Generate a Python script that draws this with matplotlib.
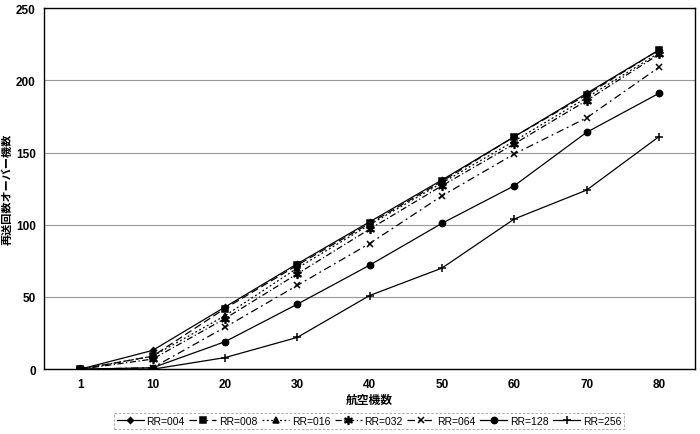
import matplotlib
matplotlib.use("Agg")
import matplotlib.pyplot as plt
import numpy as np

plt.rcParams['font.family'] = ['Liberation Sans', 'Noto Sans CJK JP', 'DejaVu Sans']

categories = ['1', '10', '20', '30', '40', '50', '60', '70', '80']
series_names = ['RR=004', 'RR=008', 'RR=016', 'RR=032', 'RR=064', 'RR=128', 'RR=256']
rr004 = [0, 13, 43, 73, 102, 131, 161, 191, 221]
rr008 = [0, 9, 42, 72, 101, 130, 161, 190, 221]
rr016 = [0, 9, 37, 70, 100, 129, 158, 188, 219]
rr032 = [0, 7, 35, 66, 97, 127, 156, 186, 218]
rr064 = [0, 1, 29, 58, 87, 120, 149, 174, 209]
rr128 = [0, 1, 19, 45, 72, 101, 127, 164, 191]
rr256 = [0, 0, 8, 22, 51, 70, 104, 124, 161]
yticks = [0, 50, 100, 150, 200, 250]

all_series = [rr004, rr008, rr016, rr032, rr064, rr128, rr256]
markers = ['D', 's', '^', '$*$', 'x', 'o', '+']
msizes = [3, 4, 4, 5.5, 4.5, 4.5, 5.5]
linestyles = ['-', (0, (6, 3)), (0, (1.5, 2)), (0, (5, 2, 1, 2)), (0, (6, 3, 1.5, 3)), '-', '-']

fig = plt.figure(figsize=(7, 4.35), dpi=100)
ax = fig.add_axes([0.063, 0.149, 0.93, 0.83])

x = np.arange(len(categories))
handles = []
for name, vals, m, ms, ls in zip(series_names, all_series, markers, msizes, linestyles):
    h, = ax.plot(x, vals, color='black', linestyle=ls, linewidth=0.9,
                 marker=m, markersize=ms, markeredgewidth=1.1, label=name)
    handles.append(h)

ax.set_xlim(-0.5, len(categories) - 0.5)
ax.set_ylim(0, 250)
ax.set_xticks(x)
ax.set_xticklabels(categories)
ax.set_yticks(yticks)
ax.yaxis.grid(True, color='#999999', linewidth=0.8)
ax.set_axisbelow(True)
ax.tick_params(axis='both', length=0, labelsize=8.5, pad=6)
for lab in ax.get_xticklabels() + ax.get_yticklabels():
    lab.set_fontweight('bold')
for s in ax.spines.values():
    s.set_color('black')
    s.set_linewidth(1.0)

ax.set_xlabel('航空機数', fontsize=8.5, fontweight='bold', labelpad=3)
ax.set_ylabel('再送回数オーバー機数', fontsize=8, fontweight='bold')
ax.yaxis.set_label_coords(-0.049, 0.5)

leg = fig.legend(handles=handles, loc='center', bbox_to_anchor=(0.527, 0.03),
                 ncol=7, fontsize=7.5, frameon=True, handlelength=2.6,
                 handletextpad=0.25, columnspacing=0.45, borderpad=0.25,
                 fancybox=False)
leg.get_frame().set_edgecolor('#888888')
leg.get_frame().set_linewidth(0.6)
leg.get_frame().set_linestyle((0, (3, 2)))

fig.savefig('out.png', dpi=100)
